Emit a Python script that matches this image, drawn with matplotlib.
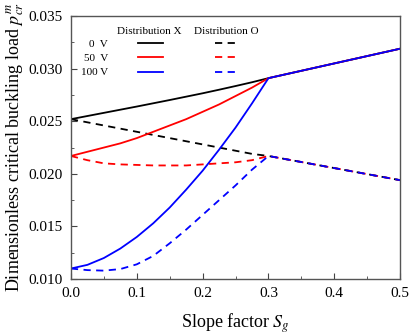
import numpy as np
import matplotlib
matplotlib.use('Agg')
import matplotlib.pyplot as plt
from matplotlib.lines import Line2D

plt.rcParams['font.family'] = ['Liberation Serif', 'DejaVu Serif']
plt.rcParams['mathtext.fontset'] = 'stix'

# Slope factor grid
sg = [0.0, 0.025, 0.05, 0.075, 0.1, 0.125, 0.15, 0.175, 0.2, 0.225, 0.25, 0.275, 0.3, 0.4, 0.5]

# Distribution X (solid)
x_0v = [0.0252, 0.0255, 0.0258, 0.0261, 0.0264, 0.02671, 0.02702, 0.02734, 0.02766, 0.0280, 0.02835, 0.02871, 0.0291, 0.0305, 0.0319]
x_50v = [0.0217, 0.0221, 0.0225, 0.0229, 0.0234, 0.0240, 0.0246, 0.0252, 0.0259, 0.0266, 0.0274, 0.0282, 0.0291, 0.0305, 0.0319]
x_100v = [0.0110, 0.01135, 0.0120, 0.0129, 0.0140, 0.0153, 0.0168, 0.0185, 0.0203, 0.0223, 0.0244, 0.0267, 0.0291, 0.0305, 0.0319]

# Distribution O (dashed)
o_0v = [0.0252, 0.0249, 0.0246, 0.0243, 0.0240, 0.0237, 0.0234, 0.0231, 0.0228, 0.0225, 0.0222, 0.0219, 0.0217, 0.02055, 0.0194]
o_50v = [0.0217, 0.0213, 0.0210, 0.0209, 0.02085, 0.0208, 0.0208, 0.0208, 0.0209, 0.0210, 0.0211, 0.0213, 0.0217, 0.02055, 0.0194]
o_100v = [0.0110, 0.01085, 0.0108, 0.01095, 0.0114, 0.0122, 0.0134, 0.0147, 0.0161, 0.0175, 0.0189, 0.0204, 0.0217, 0.02055, 0.0194]

voltages = ['0  V', '50  V', '100 V']
colors = ['black', 'red', 'blue']
dash = (0, (4, 3))

fig = plt.figure(figsize=(4.1, 3.35), dpi=100)
ax = fig.add_axes([0.173, 0.167, 0.803, 0.785])

for ys, c in zip([o_0v, o_50v, o_100v], colors):
    ax.plot(sg, ys, color=c, lw=1.3, linestyle=dash)
for ys, c in zip([x_0v, x_50v, x_100v], colors):
    ax.plot(sg, ys, color=c, lw=1.3)

ax.set_xlim(0, 0.5)
ax.set_ylim(0.010, 0.035)
ax.set_xticks(np.arange(0, 0.51, 0.1))
ax.set_xticks(np.arange(0, 0.51, 0.05), minor=True)
ax.set_yticks(np.arange(0.010, 0.0351, 0.005))
ax.set_yticks(np.arange(0.010, 0.0351, 0.0025), minor=True)
ax.xaxis.set_major_formatter(matplotlib.ticker.FormatStrFormatter('%.1f'))
ax.yaxis.set_major_formatter(matplotlib.ticker.FormatStrFormatter('%.3f'))
ax.tick_params(which='both', direction='in', labelsize=11, colors='#444444', labelcolor='black')
ax.tick_params(which='major', length=4)
ax.tick_params(which='minor', length=2)
ax.tick_params(axis='x', pad=6)
ax.tick_params(axis='y', pad=6)
for s in ax.spines.values():
    s.set_color('#555555')
    s.set_linewidth(1.0)

ax.set_xlabel('Slope factor $S_g$', fontsize=13, labelpad=8)
ax.set_ylabel('Dimensionless critical buckling load $p_{cr}^{m}$', fontsize=13, labelpad=2)

# legend: voltage labels, solid (X) and dashed (O) samples
handles = [Line2D([], [], color=c, lw=1.3) for c in colors] + \
          [Line2D([], [], color=c, lw=1.3, linestyle=dash) for c in colors]
labels = voltages + ['', '', '']
ax.legend(handles, labels, ncol=2, frameon=False, markerfirst=False,
          loc='upper left', bbox_to_anchor=(0.03, 0.912), fontsize=8,
          handlelength=2.25, handletextpad=2.7, columnspacing=2.0,
          labelspacing=0.4, borderpad=0, borderaxespad=0)
ax.text(0.237, 0.943, 'Distribution X', transform=ax.transAxes, fontsize=8, ha='center', va='center')
ax.text(0.471, 0.943, 'Distribution O', transform=ax.transAxes, fontsize=8, ha='center', va='center')

fig.savefig('out.png', dpi=100)
